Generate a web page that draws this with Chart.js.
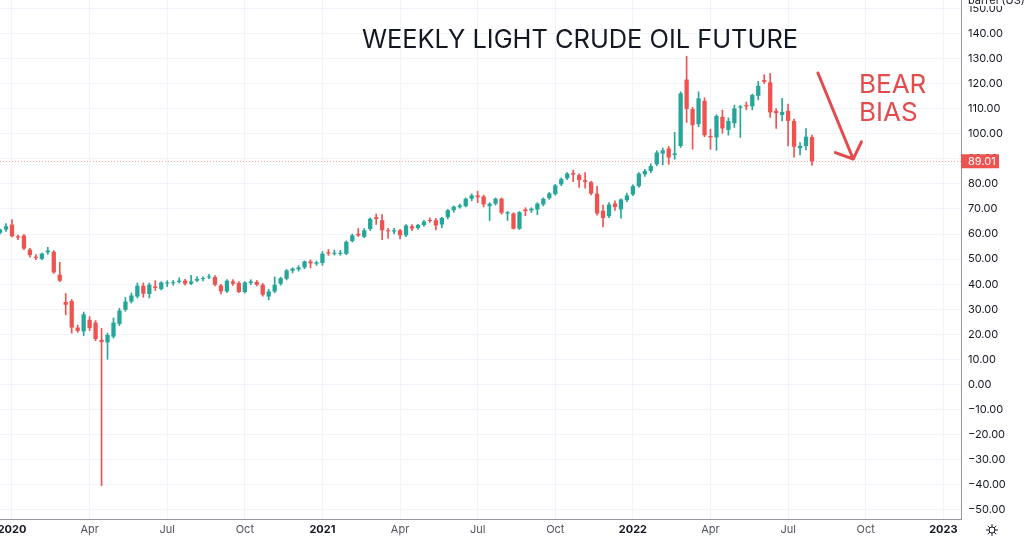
<!DOCTYPE html>
<html>
<head>
<meta charset="utf-8">
<script src="https://cdn.jsdelivr.net/npm/chart.js@4.4.0/dist/chart.umd.min.js"></script>
<style>
  html, body { margin: 0; padding: 0; background: #fff; }
  #wrap { width: 1024px; height: 540px; position: relative; }
</style>
</head>
<body>
<div id="wrap"><canvas id="oilChart" width="1024" height="540"></canvas></div>
<script>
// week 0 = week of 6 Jan 2020, one candle per week
const firstWeek = -2;
const opens  = [60.5,61.8,63.8,59.1,59.4,53.8,51.0,50.1,52.7,52.9,43.8,32.9,33.3,22.7,21.2,25.8,24.7,17.8,16.8,19.1,
                24.2,29.8,33.1,35.1,39.4,36.1,39.1,38.1,40.3,40.4,40.9,41.4,40.2,41.4,42.1,42.7,42.9,39.5,37.1,41.1,
                40.5,36.9,40.5,40.9,39.8,35.1,37.1,40.2,42.2,45.4,45.9,46.7,49.1,48.2,48.5,52.7,52.1,52.1,52.1,57.2,
                60.1,58.9,62.0,66.7,65.5,61.5,61.0,61.5,59.5,63.1,62.4,63.6,65.6,65.5,63.8,66.7,69.5,70.7,71.1,74.1,
                75.4,75.0,71.1,72.1,74.1,68.2,68.2,62.1,69.8,69.4,69.8,71.8,74.3,75.9,79.8,82.2,84.3,83.5,81.5,80.7,
                76.1,69.3,67.1,72.2,69.8,73.5,75.8,79.1,83.8,85.1,87.8,92.1,94.1,91.5,95.1,121.6,109.8,103.8,113.1,99.1,
                98.5,106.7,101.5,104.2,110.4,111.4,110.9,115.1,121.4,120.5,109.1,107.5,109.1,105.1,94.2,95.1,98.7];
const highs  = [62.0,64.2,65.8,59.6,59.8,54.3,51.8,52.4,54.7,53.4,48.7,36.3,33.9,23.7,28.9,27.1,25.5,22.4,20.5,26.5,
                30.4,34.7,36.5,40.5,40.5,40.5,41.4,41.0,41.4,41.5,42.5,41.9,43.5,43.0,42.9,43.9,43.4,40.0,41.8,41.8,
                41.0,41.0,41.8,41.5,40.3,38.0,42.9,42.8,45.9,46.6,47.4,49.3,49.7,49.2,53.0,53.8,53.6,53.5,57.3,60.0,
                62.2,62.2,66.4,68.0,67.8,62.3,62.3,61.9,63.8,63.8,63.9,65.5,66.5,66.3,66.7,69.8,71.2,72.0,74.4,76.0,
                77.1,75.5,72.5,74.4,74.4,69.0,68.5,69.0,70.5,70.5,72.5,74.4,76.6,79.8,82.4,84.5,85.5,84.0,84.5,81.0,
                79.0,71.5,72.5,73.2,74.0,76.3,79.6,84.5,85.8,88.0,93.2,94.3,94.9,100.5,116.7,130.9,110.5,116.7,114.3,101.8,
                107.6,109.4,106.3,111.4,111.3,112.6,115.8,120.9,123.5,124.0,110.0,114.1,111.8,105.8,96.5,102.0,99.5];
const lows   = [60.0,61.0,58.9,57.8,53.8,50.8,49.8,49.8,51.9,44.3,41.0,27.8,20.5,20.8,19.5,21.5,17.5,-40.3,10.1,18.5,
                23.5,29.2,32.5,34.5,34.8,34.5,37.5,37.7,39.0,39.6,40.4,39.6,39.8,41.0,41.3,42.2,39.3,36.1,36.6,39.5,
                36.6,36.4,39.8,39.3,35.2,33.8,36.6,39.6,41.7,44.5,45.2,46.2,46.5,47.5,47.5,51.5,51.6,51.5,51.8,56.8,
                59.0,58.5,61.4,63.8,57.8,58.3,60.0,58.1,59.0,61.3,61.8,63.0,64.6,61.6,62.5,66.0,68.7,70.3,70.8,73.2,
                72.5,70.8,65.4,71.5,67.9,65.4,62.0,61.8,67.3,68.6,67.7,71.2,73.8,75.5,79.3,81.7,80.9,78.6,78.3,75.6,
                67.5,62.8,66.5,69.4,66.3,72.9,75.3,78.6,83.0,84.4,87.2,87.6,87.8,89.8,94.5,104.5,93.8,102.8,98.8,93.8,
                93.4,100.2,99.4,102.5,98.5,109.5,109.5,113.5,120.0,106.5,102.1,105.1,95.1,90.6,91.5,93.5,87.4];
const closes = [61.8,63.1,59.1,58.6,54.2,51.6,50.5,52.2,53.4,44.7,41.4,31.8,22.7,21.4,28.0,22.5,18.1,16.9,19.8,24.7,
                29.5,33.1,35.5,39.4,36.2,39.8,38.5,40.7,40.7,40.8,41.4,40.2,41.1,42.1,42.5,43.1,39.8,37.1,41.4,40.2,
                36.9,40.7,41.1,39.8,35.8,37.1,39.8,42.4,45.5,46.2,46.7,49.1,48.3,48.7,52.2,52.2,52.5,52.5,56.9,59.5,
                59.4,61.5,66.1,66.0,61.5,61.1,61.5,59.5,63.4,62.2,63.6,65.0,65.2,63.4,66.4,69.5,70.9,71.4,74.1,75.4,
                74.7,71.8,72.1,74.1,68.5,68.7,62.1,68.7,69.1,70.1,72.1,74.1,76.2,79.4,81.9,84.1,83.7,81.5,80.8,76.1,
                68.2,66.4,71.8,70.8,73.8,75.4,79.1,84.1,85.1,87.1,92.5,93.4,90.5,92.1,116.1,109.8,103.4,114.1,99.4,98.5,
                107.1,102.1,105.1,110.1,110.9,110.9,115.4,119.1,120.7,108.5,108.2,108.7,105.1,94.8,95.1,98.8,89.01];

const xTickWeeks  = [0,13,26,39,52,65,78,91,104,117,130,143,156];
const xTickLabels = ['2020','Apr','Jul','Oct','2021','Apr','Jul','Oct','2022','Apr','Jul','Oct','2023'];
const yTickValues = [-50,-40,-30,-20,-10,0,10,20,30,40,50,60,70,80,90,100,110,120,130,140,150];
const yAxisUnit = 'barrel (US) ▾';
const chartTitle = 'WEEKLY LIGHT CRUDE OIL FUTURE';
const noteLines = ['BEAR', 'BIAS'];
const arrowFrom = [135.0, 124.2];   // [week, price]
const arrowTo   = [140.9, 89.9];

const UP = '#26a69a', DOWN = '#ef5350';
const candleColor = i => closes[i] >= opens[i] ? UP : DOWN;
const fontFamily = 'Inter, "Noto Sans", sans-serif';
const lastClose = closes[closes.length - 1];

const wickData = lows.map((l, i) => ({ x: firstWeek + i, y: [l, highs[i]] }));
const bodyData = opens.map((o, i) => ({ x: firstWeek + i, y: [o, closes[i]] }));

const fmtPrice = v => (v < 0 ? '\u2212' + Math.abs(v).toFixed(2) : v.toFixed(2));

const overlay = {
    id: 'overlay',
    beforeDatasetsDraw(chart) {
        // dotted last-price line
        const { ctx, chartArea, scales } = chart;
        const y = Math.round(scales.y.getPixelForValue(lastClose)) + 0.5;
        ctx.save();
        ctx.strokeStyle = 'rgba(239, 83, 80, 0.55)';
        ctx.lineWidth = 1;
        ctx.setLineDash([1, 2]);
        ctx.beginPath();
        ctx.moveTo(chartArea.left, y);
        ctx.lineTo(chartArea.right, y);
        ctx.stroke();
        ctx.restore();
    },
    afterDraw(chart) {
        const { ctx, chartArea, scales } = chart;
        ctx.save();

        // title
        ctx.fillStyle = '#131722';
        ctx.font = '400 25.4px ' + fontFamily;
        ctx.textAlign = 'center';
        ctx.textBaseline = 'alphabetic';
        ctx.fillText(chartTitle, 580, 48);

        // note
        ctx.fillStyle = '#e34c4c';
        ctx.textAlign = 'left';
        ctx.font = '400 26px ' + fontFamily;
        noteLines.forEach((t, i) => ctx.fillText(t, 859, 93 + i * 28));

        // arrow
        const x1 = scales.x.getPixelForValue(arrowFrom[0]), y1 = scales.y.getPixelForValue(arrowFrom[1]);
        const x2 = scales.x.getPixelForValue(arrowTo[0]),   y2 = scales.y.getPixelForValue(arrowTo[1]);
        const back = Math.atan2(y1 - y2, x1 - x2);
        const head = 19, spread = 48 * Math.PI / 180;
        ctx.strokeStyle = '#e34c4c';
        ctx.lineWidth = 3;
        ctx.lineCap = 'round';
        ctx.lineJoin = 'round';
        ctx.beginPath();
        ctx.moveTo(x1, y1);
        ctx.lineTo(x2, y2);
        ctx.moveTo(x2 + head * Math.cos(back - spread), y2 + head * Math.sin(back - spread));
        ctx.lineTo(x2, y2);
        ctx.lineTo(x2 + head * Math.cos(back + spread), y2 + head * Math.sin(back + spread));
        ctx.stroke();

        // last price tag on the axis
        const py = scales.y.getPixelForValue(lastClose);
        ctx.fillStyle = DOWN;
        ctx.fillRect(chartArea.right, py - 7, 38, 14);
        ctx.fillStyle = '#fff';
        ctx.font = '400 11px ' + fontFamily;
        ctx.textBaseline = 'middle';
        ctx.fillText(lastClose.toFixed(2), chartArea.right + 7, py + 0.5);

        // unit label, cut off at the top
        ctx.fillStyle = '#fff';
        ctx.fillRect(chartArea.right + 1, 0, 1024 - chartArea.right, 6);
        ctx.fillStyle = '#131722';
        ctx.textBaseline = 'alphabetic';
        ctx.fillText(yAxisUnit, chartArea.right + 7, 4);

        // settings gear
        const gx = 992, gy = 530;
        ctx.strokeStyle = '#131722';
        ctx.lineWidth = 1;
        ctx.beginPath();
        ctx.arc(gx, gy, 3, 0, Math.PI * 2);
        ctx.stroke();
        for (let k = 0; k < 8; k++) {
            const a = k * Math.PI / 4;
            ctx.beginPath();
            ctx.moveTo(gx + 3.5 * Math.cos(a), gy + 3.5 * Math.sin(a));
            ctx.lineTo(gx + 5.5 * Math.cos(a), gy + 5.5 * Math.sin(a));
            ctx.stroke();
        }
        ctx.restore();
    }
};

new Chart(document.getElementById('oilChart'), {
    type: 'bar',
    data: {
        datasets: [
            { label: 'wick', data: wickData, backgroundColor: c => candleColor(c.dataIndex),
              barThickness: 1, grouped: false, order: 2 },
            { label: 'body', data: bodyData, backgroundColor: c => candleColor(c.dataIndex),
              barPercentage: 0.72, categoryPercentage: 1, minBarLength: 1, grouped: false, order: 1 }
        ]
    },
    options: {
        responsive: false,
        animation: false,
        layout: { padding: 0 },
        plugins: { legend: { display: false }, tooltip: { enabled: false } },
        scales: {
            x: {
                type: 'linear',
                min: -2.01,
                max: 158.96,
                offset: false,
                afterBuildTicks: s => { s.ticks = xTickWeeks.map(v => ({ value: v })); },
                afterFit: s => { s.height = 21; s.paddingLeft = 0; s.paddingRight = 0; },
                grid: { color: '#f0f3fa', drawTicks: false, offset: false },
                border: { color: '#9598a1' },
                ticks: {
                    autoSkip: false,
                    maxRotation: 0,
                    padding: 4,
                    callback: v => xTickLabels[xTickWeeks.indexOf(v)],
                    color: c => /^\d/.test(xTickLabels[c.index]) ? '#131722' : '#50535e',
                    font: c => ({ family: fontFamily, size: 11,
                                  weight: /^\d/.test(xTickLabels[c.index]) ? '700' : '400' })
                }
            },
            y: {
                position: 'right',
                min: -53.6,
                max: 153.3,
                beginAtZero: false,
                afterBuildTicks: s => { s.ticks = yTickValues.map(v => ({ value: v })); },
                afterFit: s => { s.width = 63; s.paddingTop = 0; s.paddingBottom = 0; },
                grid: { color: '#f0f3fa', drawTicks: false },
                border: { color: '#9598a1' },
                ticks: {
                    padding: 7,
                    color: '#131722',
                    font: { family: fontFamily, size: 11 },
                    callback: v => fmtPrice(v)
                }
            }
        }
    },
    plugins: [overlay]
});
</script>
</body>
</html>
